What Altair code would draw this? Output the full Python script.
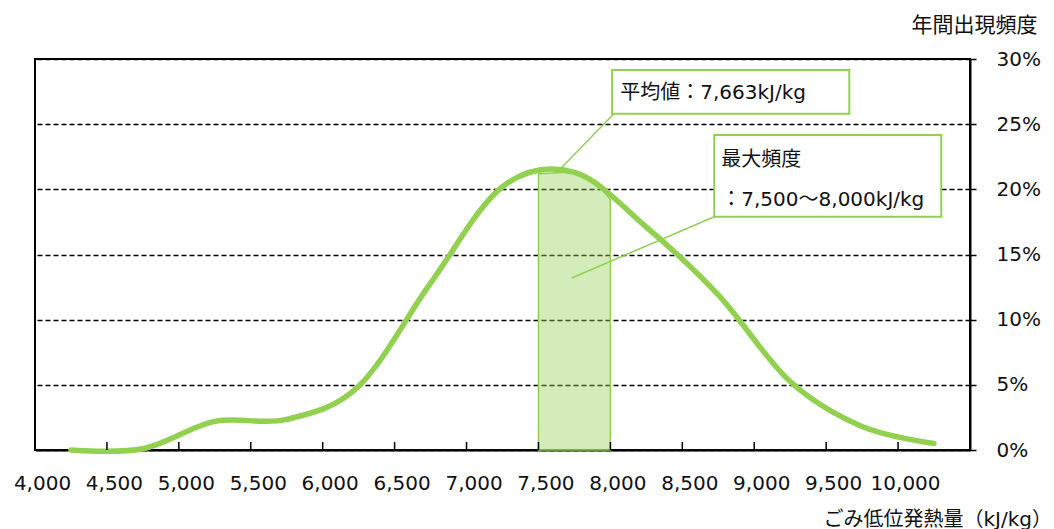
import altair as alt
import pandas as pd

# Annual frequency (%) of refuse lower heating value, per 500 kJ/kg class mid-point
heat_mid = [4250, 4750, 5250, 5750, 6250, 6750, 7250, 7750, 8250, 8750, 9250, 9750, 10250]
freq_pct = [0.0, 0.1, 2.2, 2.35, 4.9, 12.8, 20.2, 21.3, 17.1, 11.9, 5.25, 1.8, 0.5]

# Most frequent class 7,500-8,000 kJ/kg, shaded beneath the curve
band_x = [7500, 7700, 7860, 8000]
band_top = [21.2, 21.3, 20.8, 19.2]

# Axis ticks
x_labels = [4000, 4500, 5000, 5500, 6000, 6500, 7000, 7500, 8000, 8500, 9000, 9500, 10000]
x_ticks = [4500, 5000, 5500, 6000, 6500, 7000, 7500, 8000, 8500, 9000, 9500, 10000, 10500]
y_ticks = [0, 5, 10, 15, 20, 25, 30]

# Callout boxes (corners in data units)
box_x = [8012, 8722]
box_x2 = [9661, 10300]
box_y = [25.8, 17.9]
box_y2 = [29.16, 24.17]

# Leader lines from the boxes to the curve
lead_x = [8033, 8722]
lead_y = [25.9, 17.9]
lead_x2 = [7663, 7732]
lead_y2 = [21.7, 13.2]

# Callout texts
note_text = ["平均値：7,663kJ/kg", "最大頻度", "：7,500～8,000kJ/kg"]
note_x = [8068, 8771, 8771]
note_y = [27.4, 22.26, 19.19]

GREEN = "#92D050"
FONT = "DejaVu Sans, Noto Sans CJK JP"
PLOT_W, PLOT_H = 935, 391

curve_df = pd.DataFrame({"heat": heat_mid, "freq": freq_pct})
band_df = pd.DataFrame({"heat": band_x, "freq": band_top})
tick_df = pd.DataFrame({"heat": x_ticks})
box_df = pd.DataFrame({"heat": box_x, "heat2": box_x2, "freq": box_y, "freq2": box_y2})
lead_df = pd.DataFrame({"heat": lead_x, "heat2": lead_x2, "freq": lead_y, "freq2": lead_y2})
note_df = pd.DataFrame({"label": note_text, "heat": note_x, "freq": note_y})

x_axis = alt.Axis(
    values=x_labels, format=",.0f", title="ごみ低位発熱量（kJ/kg）",
    grid=False, tickSize=0, labelPadding=23, labelOffset=7,
    labelFlush=False, labelOverlap=False,
    labelFont=FONT, labelFontSize=20, labelColor="#111",
    domainColor="black", domainWidth=2,
    titleFont=FONT, titleFontSize=20, titleFontWeight="normal", titleColor="#111",
    titleAlign="left", titleBaseline="middle", titleX=788, titleY=69,
)
y_axis = alt.Axis(
    orient="right", values=y_ticks, labelExpr="datum.value + '%'",
    title="年間出現頻度", titleAngle=0,
    grid=True, gridColor="black", gridDash=[5, 3], gridWidth=1.3,
    tickSize=6, tickColor="black", tickWidth=1.5, labelPadding=20,
    labelFont=FONT, labelFontSize=20, labelColor="#111",
    domainColor="black", domainWidth=2,
    titleFont=FONT, titleFontSize=21, titleFontWeight="normal", titleColor="#111",
    titleAlign="right", titleBaseline="middle", titleX=67, titleY=-34,
)

X = alt.X("heat:Q", scale=alt.Scale(domain=[4000, 10500], nice=False, zero=False), axis=x_axis)
Y = alt.Y("freq:Q", scale=alt.Scale(domain=[0, 30], nice=False), axis=y_axis)

band = alt.Chart(band_df).mark_area(
    color=GREEN, fillOpacity=0.4, stroke=GREEN, strokeWidth=1.5, interpolate="monotone"
).encode(x=X, y=Y)

curve = alt.Chart(curve_df).mark_line(
    color=GREEN, strokeWidth=5.5, interpolate="cardinal", strokeCap="round"
).encode(x=X, y=Y)

# inward tick marks on the bottom axis
ticks = alt.Chart(tick_df).mark_rule(color="black", strokeWidth=1.5).encode(
    x=X, y=alt.value(PLOT_H - 8), y2=alt.value(PLOT_H)
)

leaders = alt.Chart(lead_df).mark_rule(color=GREEN, strokeWidth=1.5).encode(
    x=X, x2="heat2:Q", y=Y, y2="freq2:Q"
)

boxes = alt.Chart(box_df).mark_rect(fill="white", stroke=GREEN, strokeWidth=2).encode(
    x=X, x2="heat2:Q", y=Y, y2="freq2:Q"
)

notes = alt.Chart(note_df).mark_text(
    align="left", baseline="middle", font=FONT, fontSize=20, color="#111"
).encode(x=X, y=Y, text="label:N")

chart = alt.layer(band, curve, ticks, leaders, boxes, notes).properties(
    width=PLOT_W,
    height=PLOT_H,
    background="white",
    autosize=alt.AutoSizeParams(type="none"),
    padding={"left": 35, "top": 59, "right": 84, "bottom": 79},
).configure_view(
    stroke="black", strokeWidth=2
)

chart.save("out.html", embed_options={"renderer": "svg", "actions": False})
